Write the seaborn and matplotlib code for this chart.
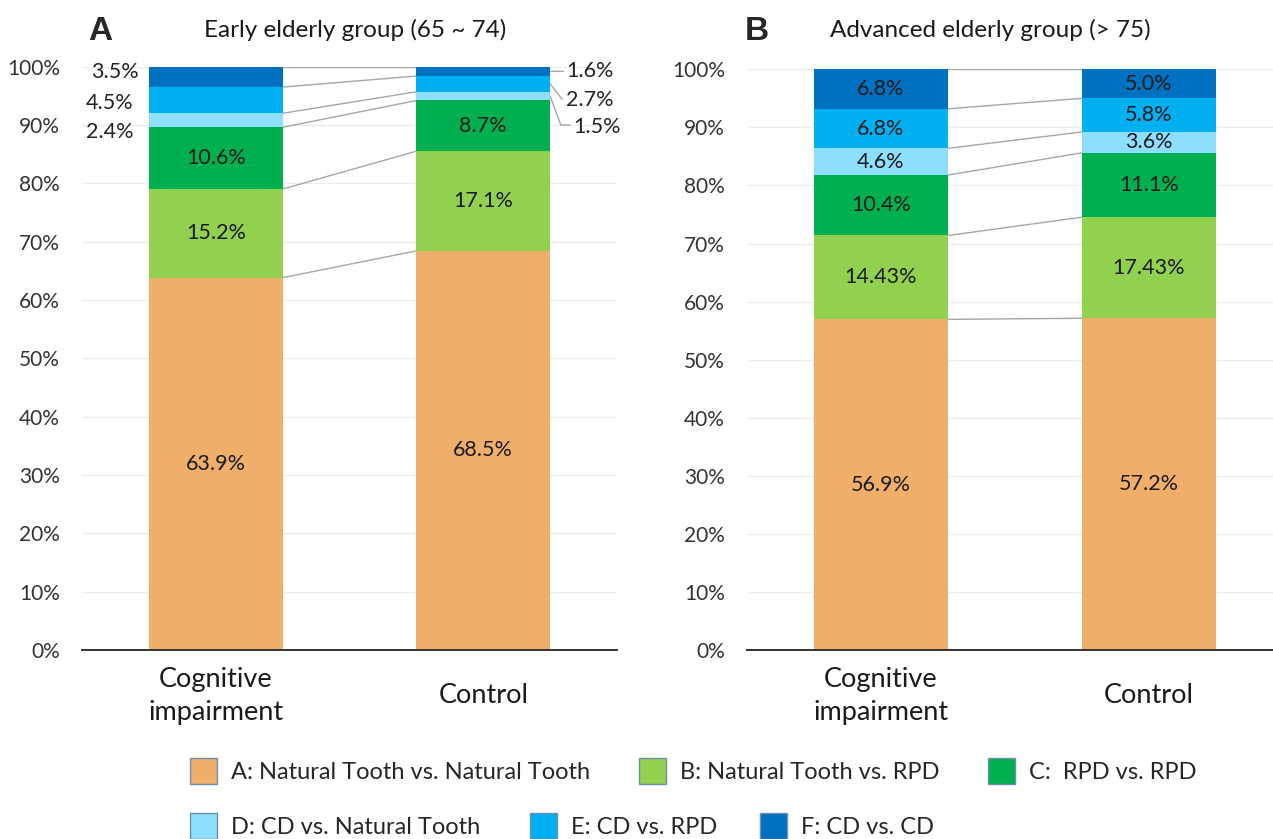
import numpy as np
import pandas as pd
import matplotlib.pyplot as plt
import seaborn as sns
from matplotlib.patches import Patch

# data (% of each group)
groups = ['Cognitive\nimpairment', 'Control']
categories = ['A: Natural Tooth vs. Natural Tooth', 'B: Natural Tooth vs. RPD', 'C:  RPD vs. RPD',
              'D: CD vs. Natural Tooth', 'E: CD vs. RPD', 'F: CD vs. CD']
early_cognitive = [63.9, 15.2, 10.6, 2.4, 4.5, 3.5]
early_control = [68.5, 17.1, 8.7, 1.5, 2.7, 1.6]
advanced_cognitive = [56.9, 14.43, 10.4, 4.6, 6.8, 6.8]
advanced_control = [57.2, 17.43, 11.1, 3.6, 5.8, 5.0]
yticks = [0, 10, 20, 30, 40, 50, 60, 70, 80, 90, 100]

colors = ['#EFAE6A', '#92D050', '#00B050', '#8EDFFF', '#00B0F0', '#0070C0']

sns.set_style('white')
plt.rcParams['font.family'] = ['Lato', 'DejaVu Sans']

W, H = 1273, 839
fig = plt.figure(figsize=(W / 100, H / 100), dpi=100)


def draw_panel(ax, cog, ctl, outside):
    vals = np.array([cog, ctl], dtype=float)
    vals = vals / vals.sum(axis=1, keepdims=True) * 100
    tops = vals.cumsum(axis=1)
    bottoms = tops - vals
    # stacked bars: draw cumulative heights from the top segment down
    for k in reversed(range(len(categories))):
        df = pd.DataFrame({'group': groups, 'top': tops[:, k]})
        sns.barplot(data=df, x='group', y='top', color=colors[k], width=0.5,
                    saturation=1, linewidth=0, ax=ax, zorder=2)
    # connector lines between the two bars
    for k in range(len(categories)):
        ax.plot([0.25, 0.75], [tops[0, k], tops[1, k]], color='#A6A6A6', lw=1, zorder=1)
    # value labels
    for b, raw in enumerate([cog, ctl]):
        for k, v in enumerate(raw):
            txt = f'{v}%'
            mid = (tops[b, k] + bottoms[b, k]) / 2
            if (b, k) in outside:
                spec = outside[(b, k)]
                tx, ty, ha = spec['pos']
                ax.text(tx, ty, txt, ha=ha, va='center', fontsize=15.5, color='#222222')
                if 'leader' in spec:
                    xs = [b + 0.25] + [p[0] for p in spec['leader']]
                    ys = [mid] + [p[1] for p in spec['leader']]
                    ax.plot(xs, ys, color='#A6A6A6', lw=1, zorder=1, clip_on=False)
            else:
                ax.text(b, mid, txt, ha='center', va='center', fontsize=15.5, color='#1a1a1a', zorder=3)

    ax.set_xlim(-0.5, 1.5)
    ax.set_ylim(0, 100)
    ax.set_yticks(yticks)
    ax.set_yticklabels([f'{t}%' for t in yticks])
    ax.set_xticks([0, 1])
    ax.set_xticklabels(groups, fontsize=19.5, va='center', linespacing=1.4, color='#1a1a1a')
    ax.set_xlabel('')
    ax.set_ylabel('')
    ax.tick_params(axis='y', length=0, pad=16, labelsize=15, labelcolor='#333333')
    ax.tick_params(axis='x', length=0, pad=33)
    ax.grid(axis='y', color='#EDEDED', lw=1)
    ax.grid(axis='x', visible=False)
    ax.set_axisbelow(True)
    for s in ['left', 'right', 'top']:
        ax.spines[s].set_visible(False)
    ax.spines['bottom'].set_color('#333333')
    ax.spines['bottom'].set_linewidth(1.4)
    ax.spines['bottom'].set_zorder(4)


# labels placed outside the bars in panel A
outside_a = {
    (0, 5): {'pos': (-0.288, 99.1, 'right')},
    (0, 4): {'pos': (-0.307, 93.8, 'right')},
    (0, 3): {'pos': (-0.307, 88.8, 'right')},
    (1, 5): {'pos': (1.31, 99.2, 'left'), 'leader': [(1.30, 99.2)]},
    (1, 4): {'pos': (1.31, 94.3, 'left'), 'leader': [(1.295, 94.4)]},
    (1, 3): {'pos': (1.335, 89.7, 'left'), 'leader': [(1.29, 90.0), (1.325, 90.0)]},
}

ax_a = fig.add_axes([82 / W, (H - 650) / H, 535 / W, 583.3 / H])
draw_panel(ax_a, early_cognitive, early_control, outside_a)
ax_b = fig.add_axes([747 / W, (H - 650) / H, 536 / W, 580.7 / H])
draw_panel(ax_b, advanced_cognitive, advanced_control, {})

# panel letters and titles
fig.text(88 / W, 1 - 31 / H, 'A', fontsize=24, fontweight='bold', family='Liberation Sans',
         ha='left', va='center')
fig.text(355 / W, 1 - 30 / H, 'Early elderly group (65 ~ 74)', fontsize=17.5, ha='center',
         va='center', color='#1a1a1a')
fig.text(745 / W, 1 - 32 / H, 'B', fontsize=24, fontweight='bold', family='Liberation Sans',
         ha='left', va='center')
fig.text(990 / W, 1 - 30 / H, 'Advanced elderly group (> 75)', fontsize=17.5, ha='center',
         va='center', color='#1a1a1a')

# legend, one entry at a time to follow the reference's placement
legend_pos = [(190, 771), (639, 771), (988, 771), (190, 826), (530, 826), (760, 826)]
for k, (px, py) in enumerate(legend_pos):
    h = Patch(facecolor=colors[k], edgecolor='#6f8fae', lw=1, label=categories[k])
    fig.legend(handles=[h], loc='center left', bbox_to_anchor=(px / W, 1 - py / H),
               frameon=False, fontsize=17, handlelength=1.15, handleheight=1.27,
               handletextpad=0.6, borderpad=0, borderaxespad=0)

fig.savefig('out.png', dpi=100)
